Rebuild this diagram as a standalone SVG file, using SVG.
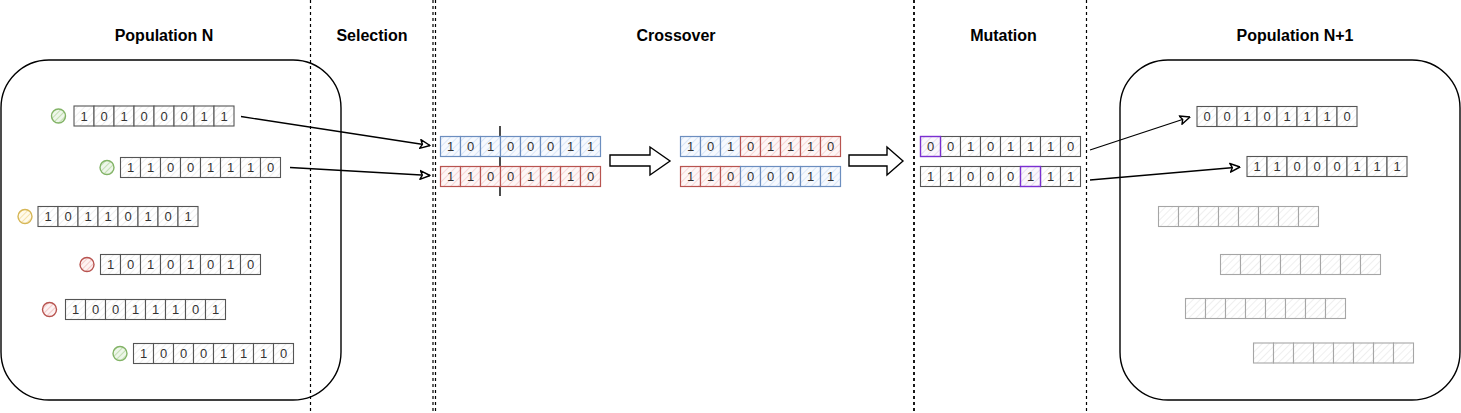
<svg xmlns="http://www.w3.org/2000/svg" width="1461" height="413" viewBox="0 0 1461 413">
<style>
.hd{font-family:"Liberation Sans",Arial,sans-serif;font-weight:bold;font-size:16px;fill:#000;text-anchor:middle}
.t{font-family:"Liberation Sans",Arial,sans-serif;font-size:13px;fill:#333;text-anchor:middle}
.c{fill:url(#hg);stroke:#555;stroke-width:1.1}
.b{fill:url(#hb);stroke:#6c8ebf;stroke-width:1.2}
.r{fill:url(#hr);stroke:#b85450;stroke-width:1.2}
.p{fill:url(#hp);stroke:#7a2fd0;stroke-width:1.4}
.e{fill:url(#he);stroke:#a6a6a6;stroke-width:1.1}
.box{fill:none;stroke:#000;stroke-width:1.4}
.dash{stroke:#000;stroke-width:1.2;stroke-dasharray:3 3;fill:none}
.ln{stroke:#000;stroke-width:1.3;fill:none;marker-end:url(#ah)}
.blk{fill:#fff;stroke:#000;stroke-width:1.4}
.cg{fill:url(#hcg);stroke:#82b366;stroke-width:1.4}
.cy{fill:url(#hcy);stroke:#d6b656;stroke-width:1.4}
.cr{fill:url(#hcr);stroke:#b85450;stroke-width:1.4}
</style>
<defs>
<pattern id="hg" width="5" height="5" patternUnits="userSpaceOnUse" patternTransform="rotate(45)"><rect width="5" height="5" fill="#fff"/><line x1="0" y1="0" x2="0" y2="5" stroke="#e8e8e8" stroke-width="1.4"/></pattern>
<pattern id="he" width="5" height="5" patternUnits="userSpaceOnUse" patternTransform="rotate(45)"><rect width="5" height="5" fill="#fff"/><line x1="0" y1="0" x2="0" y2="5" stroke="#e8e8e8" stroke-width="1.4"/></pattern>
<pattern id="hb" width="5" height="5" patternUnits="userSpaceOnUse" patternTransform="rotate(45)"><rect width="5" height="5" fill="#f6f9fe"/><line x1="0" y1="0" x2="0" y2="5" stroke="#cfdff5" stroke-width="1.4"/></pattern>
<pattern id="hr" width="5" height="5" patternUnits="userSpaceOnUse" patternTransform="rotate(45)"><rect width="5" height="5" fill="#fdf6f6"/><line x1="0" y1="0" x2="0" y2="5" stroke="#f4cac8" stroke-width="1.4"/></pattern>
<pattern id="hp" width="5" height="5" patternUnits="userSpaceOnUse" patternTransform="rotate(45)"><rect width="5" height="5" fill="#faf7fc"/><line x1="0" y1="0" x2="0" y2="5" stroke="#dfd2ea" stroke-width="1.4"/></pattern>
<pattern id="hcg" width="4" height="4" patternUnits="userSpaceOnUse" patternTransform="rotate(45)"><rect width="4" height="4" fill="#eef6ea"/><line x1="0" y1="0" x2="0" y2="4" stroke="#b3d69e" stroke-width="1.5"/></pattern>
<pattern id="hcy" width="4" height="4" patternUnits="userSpaceOnUse" patternTransform="rotate(45)"><rect width="4" height="4" fill="#fffaeb"/><line x1="0" y1="0" x2="0" y2="4" stroke="#f3dc98" stroke-width="1.5"/></pattern>
<pattern id="hcr" width="4" height="4" patternUnits="userSpaceOnUse" patternTransform="rotate(45)"><rect width="4" height="4" fill="#fdf2f2"/><line x1="0" y1="0" x2="0" y2="4" stroke="#f0bcba" stroke-width="1.5"/></pattern>
<marker id="ah" viewBox="0 0 10 10" refX="9.5" refY="5" markerWidth="11" markerHeight="11" markerUnits="userSpaceOnUse" orient="auto"><path d="M0.5,1 L9.5,5 L0.5,9 L2.5,5 Z" fill="#fff" stroke="#000" stroke-width="1.3" stroke-linejoin="round"/></marker>
</defs>
<rect width="1461" height="413" fill="#fff"/>

<g id="headers">
<text class="hd" x="164" y="41">Population N</text>
<text class="hd" x="372" y="41">Selection</text>
<text class="hd" x="676" y="41">Crossover</text>
<text class="hd" x="1003.5" y="41">Mutation</text>
<text class="hd" x="1295" y="41">Population N+1</text>
</g>

<g id="separators">
<line class="dash" x1="310.5" y1="0" x2="310.5" y2="413"/>
<line class="dash" x1="433" y1="0" x2="433" y2="413"/>
<line class="dash" x1="435.5" y1="0" x2="435.5" y2="413"/>
<line class="dash" x1="914" y1="0" x2="914" y2="413" style="stroke-width:1.8"/>
<line class="dash" x1="1086.5" y1="0" x2="1086.5" y2="413"/>
</g>

<g id="popN">
<rect class="box" x="1" y="60" width="340" height="340" rx="48"/>
</g>

<g id="popN1">
<rect class="box" x="1120" y="60" width="340" height="340" rx="48"/>
</g>

<g id="connectors">
<line class="ln" x1="241" y1="116.5" x2="430" y2="145.5"/>
<line class="ln" x1="290" y1="167.5" x2="430" y2="175.5"/>
<line class="ln" x1="1090" y1="150" x2="1190" y2="117"/>
<line class="ln" x1="1090" y1="180" x2="1240" y2="167"/>
<polygon class="blk" points="610,155 650,155 650,147 670,161 650,175 650,166 610,166"/>
<polygon class="blk" points="849,155 887,155 887,147 903,161 887,175 887,166 849,166"/>
<line x1="500" y1="126" x2="500" y2="196" stroke="#000" stroke-width="1.4"/>
</g>

<g id="ind1">
<circle class="cg" cx="58.5" cy="116" r="7"/>
<rect class="c" x="74" y="106" width="20" height="20"/><rect class="c" x="94" y="106" width="20" height="20"/><rect class="c" x="114" y="106" width="20" height="20"/><rect class="c" x="134" y="106" width="20" height="20"/><rect class="c" x="154" y="106" width="20" height="20"/><rect class="c" x="174" y="106" width="20" height="20"/><rect class="c" x="194" y="106" width="20" height="20"/><rect class="c" x="214" y="106" width="20" height="20"/>
<text class="t" x="84" y="120.7">1</text><text class="t" x="104" y="120.7">0</text><text class="t" x="124" y="120.7">1</text><text class="t" x="144" y="120.7">0</text><text class="t" x="164" y="120.7">0</text><text class="t" x="184" y="120.7">0</text><text class="t" x="204" y="120.7">1</text><text class="t" x="224" y="120.7">1</text>
</g>

<g id="ind2">
<circle class="cg" cx="107" cy="167.5" r="7"/>
<rect class="c" x="120.5" y="157.5" width="20" height="20"/><rect class="c" x="140.5" y="157.5" width="20" height="20"/><rect class="c" x="160.5" y="157.5" width="20" height="20"/><rect class="c" x="180.5" y="157.5" width="20" height="20"/><rect class="c" x="200.5" y="157.5" width="20" height="20"/><rect class="c" x="220.5" y="157.5" width="20" height="20"/><rect class="c" x="240.5" y="157.5" width="20" height="20"/><rect class="c" x="260.5" y="157.5" width="20" height="20"/>
<text class="t" x="130.5" y="172.2">1</text><text class="t" x="150.5" y="172.2">1</text><text class="t" x="170.5" y="172.2">0</text><text class="t" x="190.5" y="172.2">0</text><text class="t" x="210.5" y="172.2">1</text><text class="t" x="230.5" y="172.2">1</text><text class="t" x="250.5" y="172.2">1</text><text class="t" x="270.5" y="172.2">0</text>
</g>

<g id="ind3">
<circle class="cy" cx="25" cy="216.5" r="7"/>
<rect class="c" x="38" y="206.5" width="20" height="20"/><rect class="c" x="58" y="206.5" width="20" height="20"/><rect class="c" x="78" y="206.5" width="20" height="20"/><rect class="c" x="98" y="206.5" width="20" height="20"/><rect class="c" x="118" y="206.5" width="20" height="20"/><rect class="c" x="138" y="206.5" width="20" height="20"/><rect class="c" x="158" y="206.5" width="20" height="20"/><rect class="c" x="178" y="206.5" width="20" height="20"/>
<text class="t" x="48" y="221.2">1</text><text class="t" x="68" y="221.2">0</text><text class="t" x="88" y="221.2">1</text><text class="t" x="108" y="221.2">1</text><text class="t" x="128" y="221.2">0</text><text class="t" x="148" y="221.2">1</text><text class="t" x="168" y="221.2">0</text><text class="t" x="188" y="221.2">1</text>
</g>

<g id="ind4">
<circle class="cr" cx="87" cy="264.5" r="7"/>
<rect class="c" x="100.5" y="254.5" width="20" height="20"/><rect class="c" x="120.5" y="254.5" width="20" height="20"/><rect class="c" x="140.5" y="254.5" width="20" height="20"/><rect class="c" x="160.5" y="254.5" width="20" height="20"/><rect class="c" x="180.5" y="254.5" width="20" height="20"/><rect class="c" x="200.5" y="254.5" width="20" height="20"/><rect class="c" x="220.5" y="254.5" width="20" height="20"/><rect class="c" x="240.5" y="254.5" width="20" height="20"/>
<text class="t" x="110.5" y="269.2">1</text><text class="t" x="130.5" y="269.2">0</text><text class="t" x="150.5" y="269.2">1</text><text class="t" x="170.5" y="269.2">0</text><text class="t" x="190.5" y="269.2">1</text><text class="t" x="210.5" y="269.2">0</text><text class="t" x="230.5" y="269.2">1</text><text class="t" x="250.5" y="269.2">0</text>
</g>

<g id="ind5">
<circle class="cr" cx="49.5" cy="309.5" r="7"/>
<rect class="c" x="65.5" y="299.5" width="20" height="20"/><rect class="c" x="85.5" y="299.5" width="20" height="20"/><rect class="c" x="105.5" y="299.5" width="20" height="20"/><rect class="c" x="125.5" y="299.5" width="20" height="20"/><rect class="c" x="145.5" y="299.5" width="20" height="20"/><rect class="c" x="165.5" y="299.5" width="20" height="20"/><rect class="c" x="185.5" y="299.5" width="20" height="20"/><rect class="c" x="205.5" y="299.5" width="20" height="20"/>
<text class="t" x="75.5" y="314.2">1</text><text class="t" x="95.5" y="314.2">0</text><text class="t" x="115.5" y="314.2">0</text><text class="t" x="135.5" y="314.2">1</text><text class="t" x="155.5" y="314.2">1</text><text class="t" x="175.5" y="314.2">1</text><text class="t" x="195.5" y="314.2">0</text><text class="t" x="215.5" y="314.2">1</text>
</g>

<g id="ind6">
<circle class="cg" cx="120" cy="353.5" r="7"/>
<rect class="c" x="133.5" y="343.5" width="20" height="20"/><rect class="c" x="153.5" y="343.5" width="20" height="20"/><rect class="c" x="173.5" y="343.5" width="20" height="20"/><rect class="c" x="193.5" y="343.5" width="20" height="20"/><rect class="c" x="213.5" y="343.5" width="20" height="20"/><rect class="c" x="233.5" y="343.5" width="20" height="20"/><rect class="c" x="253.5" y="343.5" width="20" height="20"/><rect class="c" x="273.5" y="343.5" width="20" height="20"/>
<text class="t" x="143.5" y="358.2">1</text><text class="t" x="163.5" y="358.2">0</text><text class="t" x="183.5" y="358.2">0</text><text class="t" x="203.5" y="358.2">0</text><text class="t" x="223.5" y="358.2">1</text><text class="t" x="243.5" y="358.2">1</text><text class="t" x="263.5" y="358.2">1</text><text class="t" x="283.5" y="358.2">0</text>
</g>

<g id="parent1">
<rect class="b" x="440.5" y="136.5" width="20" height="20"/><rect class="b" x="460.5" y="136.5" width="20" height="20"/><rect class="b" x="480.5" y="136.5" width="20" height="20"/><rect class="b" x="500.5" y="136.5" width="20" height="20"/><rect class="b" x="520.5" y="136.5" width="20" height="20"/><rect class="b" x="540.5" y="136.5" width="20" height="20"/><rect class="b" x="560.5" y="136.5" width="20" height="20"/><rect class="b" x="580.5" y="136.5" width="20" height="20"/>
<text class="t" x="450.5" y="151.2">1</text><text class="t" x="470.5" y="151.2">0</text><text class="t" x="490.5" y="151.2">1</text><text class="t" x="510.5" y="151.2">0</text><text class="t" x="530.5" y="151.2">0</text><text class="t" x="550.5" y="151.2">0</text><text class="t" x="570.5" y="151.2">1</text><text class="t" x="590.5" y="151.2">1</text>
</g>

<g id="parent2">
<rect class="r" x="440.5" y="166.5" width="20" height="20"/><rect class="r" x="460.5" y="166.5" width="20" height="20"/><rect class="r" x="480.5" y="166.5" width="20" height="20"/><rect class="r" x="500.5" y="166.5" width="20" height="20"/><rect class="r" x="520.5" y="166.5" width="20" height="20"/><rect class="r" x="540.5" y="166.5" width="20" height="20"/><rect class="r" x="560.5" y="166.5" width="20" height="20"/><rect class="r" x="580.5" y="166.5" width="20" height="20"/>
<text class="t" x="450.5" y="181.2">1</text><text class="t" x="470.5" y="181.2">1</text><text class="t" x="490.5" y="181.2">0</text><text class="t" x="510.5" y="181.2">0</text><text class="t" x="530.5" y="181.2">1</text><text class="t" x="550.5" y="181.2">1</text><text class="t" x="570.5" y="181.2">1</text><text class="t" x="590.5" y="181.2">0</text>
</g>

<g id="child1">
<rect class="b" x="680.5" y="136.5" width="20" height="20"/><rect class="b" x="700.5" y="136.5" width="20" height="20"/><rect class="b" x="720.5" y="136.5" width="20" height="20"/><rect class="r" x="740.5" y="136.5" width="20" height="20"/><rect class="r" x="760.5" y="136.5" width="20" height="20"/><rect class="r" x="780.5" y="136.5" width="20" height="20"/><rect class="r" x="800.5" y="136.5" width="20" height="20"/><rect class="r" x="820.5" y="136.5" width="20" height="20"/>
<text class="t" x="690.5" y="151.2">1</text><text class="t" x="710.5" y="151.2">0</text><text class="t" x="730.5" y="151.2">1</text><text class="t" x="750.5" y="151.2">0</text><text class="t" x="770.5" y="151.2">1</text><text class="t" x="790.5" y="151.2">1</text><text class="t" x="810.5" y="151.2">1</text><text class="t" x="830.5" y="151.2">0</text>
</g>

<g id="child2">
<rect class="r" x="680.5" y="166.5" width="20" height="20"/><rect class="r" x="700.5" y="166.5" width="20" height="20"/><rect class="r" x="720.5" y="166.5" width="20" height="20"/><rect class="b" x="740.5" y="166.5" width="20" height="20"/><rect class="b" x="760.5" y="166.5" width="20" height="20"/><rect class="b" x="780.5" y="166.5" width="20" height="20"/><rect class="b" x="800.5" y="166.5" width="20" height="20"/><rect class="b" x="820.5" y="166.5" width="20" height="20"/>
<text class="t" x="690.5" y="181.2">1</text><text class="t" x="710.5" y="181.2">1</text><text class="t" x="730.5" y="181.2">0</text><text class="t" x="750.5" y="181.2">0</text><text class="t" x="770.5" y="181.2">0</text><text class="t" x="790.5" y="181.2">0</text><text class="t" x="810.5" y="181.2">1</text><text class="t" x="830.5" y="181.2">1</text>
</g>

<g id="mutant1">
<rect class="c" x="940.5" y="136.5" width="20" height="20"/><rect class="c" x="960.5" y="136.5" width="20" height="20"/><rect class="c" x="980.5" y="136.5" width="20" height="20"/><rect class="c" x="1000.5" y="136.5" width="20" height="20"/><rect class="c" x="1020.5" y="136.5" width="20" height="20"/><rect class="c" x="1040.5" y="136.5" width="20" height="20"/><rect class="c" x="1060.5" y="136.5" width="20" height="20"/><rect class="p" x="920.5" y="136.5" width="20" height="20"/>
<text class="t" x="930.5" y="151.2">0</text><text class="t" x="950.5" y="151.2">0</text><text class="t" x="970.5" y="151.2">1</text><text class="t" x="990.5" y="151.2">0</text><text class="t" x="1010.5" y="151.2">1</text><text class="t" x="1030.5" y="151.2">1</text><text class="t" x="1050.5" y="151.2">1</text><text class="t" x="1070.5" y="151.2">0</text>
</g>

<g id="mutant2">
<rect class="c" x="920.5" y="166.5" width="20" height="20"/><rect class="c" x="940.5" y="166.5" width="20" height="20"/><rect class="c" x="960.5" y="166.5" width="20" height="20"/><rect class="c" x="980.5" y="166.5" width="20" height="20"/><rect class="c" x="1000.5" y="166.5" width="20" height="20"/><rect class="c" x="1040.5" y="166.5" width="20" height="20"/><rect class="c" x="1060.5" y="166.5" width="20" height="20"/><rect class="p" x="1020.5" y="166.5" width="20" height="20"/>
<text class="t" x="930.5" y="181.2">1</text><text class="t" x="950.5" y="181.2">1</text><text class="t" x="970.5" y="181.2">0</text><text class="t" x="990.5" y="181.2">0</text><text class="t" x="1010.5" y="181.2">0</text><text class="t" x="1030.5" y="181.2">1</text><text class="t" x="1050.5" y="181.2">1</text><text class="t" x="1070.5" y="181.2">1</text>
</g>

<g id="new1">
<rect class="c" x="1197" y="106.5" width="20" height="20"/><rect class="c" x="1217" y="106.5" width="20" height="20"/><rect class="c" x="1237" y="106.5" width="20" height="20"/><rect class="c" x="1257" y="106.5" width="20" height="20"/><rect class="c" x="1277" y="106.5" width="20" height="20"/><rect class="c" x="1297" y="106.5" width="20" height="20"/><rect class="c" x="1317" y="106.5" width="20" height="20"/><rect class="c" x="1337" y="106.5" width="20" height="20"/>
<text class="t" x="1207" y="121.2">0</text><text class="t" x="1227" y="121.2">0</text><text class="t" x="1247" y="121.2">1</text><text class="t" x="1267" y="121.2">0</text><text class="t" x="1287" y="121.2">1</text><text class="t" x="1307" y="121.2">1</text><text class="t" x="1327" y="121.2">1</text><text class="t" x="1347" y="121.2">0</text>
</g>

<g id="new2">
<rect class="c" x="1247" y="156.5" width="20" height="20"/><rect class="c" x="1267" y="156.5" width="20" height="20"/><rect class="c" x="1287" y="156.5" width="20" height="20"/><rect class="c" x="1307" y="156.5" width="20" height="20"/><rect class="c" x="1327" y="156.5" width="20" height="20"/><rect class="c" x="1347" y="156.5" width="20" height="20"/><rect class="c" x="1367" y="156.5" width="20" height="20"/><rect class="c" x="1387" y="156.5" width="20" height="20"/>
<text class="t" x="1257" y="171.2">1</text><text class="t" x="1277" y="171.2">1</text><text class="t" x="1297" y="171.2">0</text><text class="t" x="1317" y="171.2">0</text><text class="t" x="1337" y="171.2">0</text><text class="t" x="1357" y="171.2">1</text><text class="t" x="1377" y="171.2">1</text><text class="t" x="1397" y="171.2">1</text>
</g>

<g id="empty1">
<rect class="e" x="1158.5" y="206.5" width="20" height="20"/><rect class="e" x="1178.5" y="206.5" width="20" height="20"/><rect class="e" x="1198.5" y="206.5" width="20" height="20"/><rect class="e" x="1218.5" y="206.5" width="20" height="20"/><rect class="e" x="1238.5" y="206.5" width="20" height="20"/><rect class="e" x="1258.5" y="206.5" width="20" height="20"/><rect class="e" x="1278.5" y="206.5" width="20" height="20"/><rect class="e" x="1298.5" y="206.5" width="20" height="20"/>
</g>
<g id="empty2">
<rect class="e" x="1220.5" y="254.5" width="20" height="20"/><rect class="e" x="1240.5" y="254.5" width="20" height="20"/><rect class="e" x="1260.5" y="254.5" width="20" height="20"/><rect class="e" x="1280.5" y="254.5" width="20" height="20"/><rect class="e" x="1300.5" y="254.5" width="20" height="20"/><rect class="e" x="1320.5" y="254.5" width="20" height="20"/><rect class="e" x="1340.5" y="254.5" width="20" height="20"/><rect class="e" x="1360.5" y="254.5" width="20" height="20"/>
</g>
<g id="empty3">
<rect class="e" x="1185.5" y="298.5" width="20" height="20"/><rect class="e" x="1205.5" y="298.5" width="20" height="20"/><rect class="e" x="1225.5" y="298.5" width="20" height="20"/><rect class="e" x="1245.5" y="298.5" width="20" height="20"/><rect class="e" x="1265.5" y="298.5" width="20" height="20"/><rect class="e" x="1285.5" y="298.5" width="20" height="20"/><rect class="e" x="1305.5" y="298.5" width="20" height="20"/><rect class="e" x="1325.5" y="298.5" width="20" height="20"/>
</g>
<g id="empty4">
<rect class="e" x="1253.5" y="343" width="20" height="20"/><rect class="e" x="1273.5" y="343" width="20" height="20"/><rect class="e" x="1293.5" y="343" width="20" height="20"/><rect class="e" x="1313.5" y="343" width="20" height="20"/><rect class="e" x="1333.5" y="343" width="20" height="20"/><rect class="e" x="1353.5" y="343" width="20" height="20"/><rect class="e" x="1373.5" y="343" width="20" height="20"/><rect class="e" x="1393.5" y="343" width="20" height="20"/>
</g>
</svg>
